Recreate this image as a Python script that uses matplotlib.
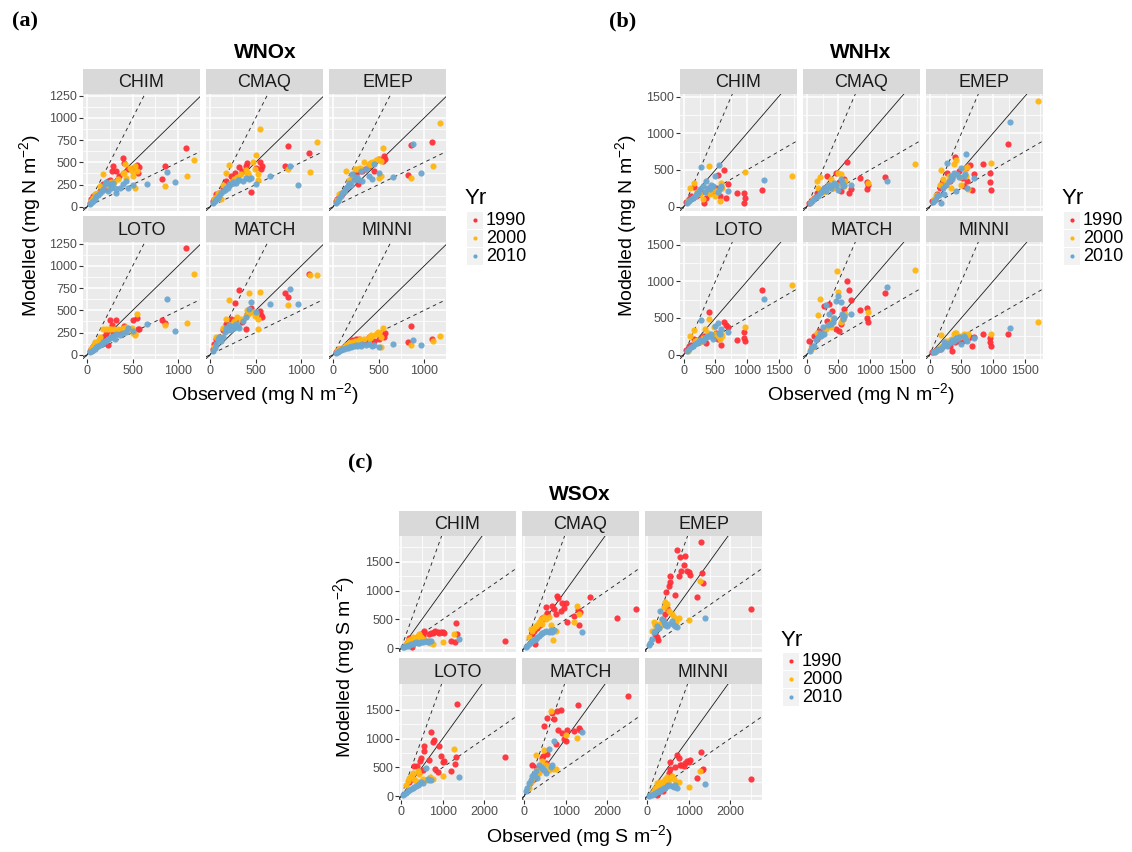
import numpy as np
import matplotlib
matplotlib.use("Agg")
import matplotlib.pyplot as plt
from matplotlib.patches import Rectangle

NA = np.nan
MODELS = ["CHIM", "CMAQ", "EMEP", "LOTO", "MATCH", "MINNI"]
YEARS = ["1990", "2000", "2010"]
YEAR_COLOURS = {"1990": "#FF3038", "2000": "#FFB710", "2010": "#6CA7D0"}

# ---------------- WNOx (mg N m-2) ----------------
NOX_OBS_1990 = [29, 47, 70, 102, 139, 175, 210, 230, 248, 277, 285, 321, 350, 394, 405, 449, 504, 547, 558, 569, 821, 858, 1080]
NOX_CHIM_1990 = [45, 83, 120, 139, 176, 251, 200, 289, 297, 402, 458, 402, 345, 544, 496, 420, 432, 469, 383, 447, 312, 462, 664]
NOX_CMAQ_1990 = [64, 90, 139, 160, 214, 289, 250, 345, 300, 383, 319, 447, 402, 460, 496, 169, 439, 507, 420, 458, 458, 683, 608]
NOX_EMEP_1990 = [60, 83, 110, 139, 214, 251, 327, 327, 383, 251, 400, 402, 420, 458, 480, 402, 533, 514, 571, 540, 357, 691, 728]
NOX_LOTO_1990 = [40, 70, 95, 105, 181, 200, 230, 113, 388, 339, 250, 395, 270, 300, 320, 294, 391, 414, 294, 294, 388, 361, 1204]
NOX_MATCH_1990 = [64, 120, 177, 196, 275, 350, 330, 406, 380, 587, 400, 723, 365, 290, 459, 531, 470, 497, 444, 430, 696, 644, 903]
NOX_MINNI_1990 = [30, 45, 64, 70, 101, 120, 162, 150, 177, 160, 177, 140, 139, 196, 190, 158, 177, 218, 200, 240, 139, 320, 181]

NOX_OBS_2000 = [40, 66, 84, 120, 146, 175, 212, 240, 266, 300, 339, 394, 405, 412, 431, 474, 496, 504, 522, 529, 547, 858, 1099, 1177]
NOX_CHIM_2000 = [70, 101, 139, 160, 233, 364, 250, 230, 280, 280, 308, 380, 383, 477, 327, 439, 402, 350, 458, 206, 400, 229, 349, 522]
NOX_CMAQ_2000 = [83, 110, 158, 83, 250, 383, 469, 280, 308, 330, 364, 413, 380, 383, 350, 503, 420, 582, 364, 300, 871, 420, 390, 728]
NOX_EMEP_2000 = [80, 139, 150, 176, 402, 300, 360, 420, 420, 440, 507, 470, 495, 480, 507, 530, 540, 327, 345, 520, 664, 327, 454, 938]
NOX_LOTO_2000 = [60, 100, 143, 150, 200, 294, 294, 294, 294, 294, 290, 300, 260, 280, 312, 290, 300, 250, 218, 230, 455, 339, 357, 907]
NOX_MATCH_2000 = [90, 196, 180, 200, 300, 406, 621, 350, 380, 420, 400, 440, 500, 460, 696, 480, 440, 459, 290, 400, 711, 561, 896, 896]
NOX_MINNI_2000 = [40, 60, 70, 90, 110, 130, 140, 160, 150, 177, 177, 200, 190, 220, 210, 230, 252, 240, 200, 87, 297, 105, 158, 207]

NOX_OBS_2010 = [29, 50, 66, 85, 102, 120, 139, 160, 175, 193, 212, 230, 248, 266, 285, 303, 321, 358, 394, 423, 449, 504, 657, 872, 966]
NOX_CHIM_2010 = [34, 50, 64, 90, 120, 130, 158, 180, 195, 251, 282, 176, 251, 214, 270, 214, 158, 214, 259, 289, 214, 244, 259, 390, 278]
NOX_CMAQ_2010 = [45, 60, 83, 100, 120, 150, 176, 190, 214, 214, 251, 251, 280, 270, 270, 300, 300, 289, 320, 308, 327, 259, 345, 458, 244]
NOX_EMEP_2010 = [45, 70, 101, 120, 158, 180, 214, 230, 270, 250, 364, 300, 327, 330, 300, 402, 289, 420, 350, 308, 477, 383, 338, 702, 379]
NOX_LOTO_2010 = [30, 45, 55, 70, 85, 100, 110, 120, 140, 150, 160, 180, 190, 200, 215, 180, 230, 220, 250, 260, 300, 270, 350, 625, 267]
NOX_MATCH_2010 = [45, 80, 120, 180, 200, 160, 200, 260, 300, 280, 330, 280, 320, 300, 350, 320, 300, 380, 420, 520, 598, 478, 572, 741, 568]
NOX_MINNI_2010 = [20, 30, 40, 55, 60, 70, 80, 75, 90, 85, 100, 95, 110, 100, 115, 100, 120, 110, 125, 100, 110, 90, 120, 162, 105]

# ---------------- WNHx (mg N m-2) ----------------
NHX_OBS_1990 = [40, 80, 117, 160, 200, 239, 277, 314, 356, 404, 463, 505, 548, 569, 596, 638, 665, 702, 835, 950, 957, 965, 1230]
NHX_CHIM_1990 = [60, 100, 140, 273, 150, 214, 200, 50, 123, 180, 214, 259, 432, 145, 250, 505, 123, 305, 191, 191, 50, 114, 223]
NHX_CMAQ_1990 = [50, 90, 120, 180, 220, 214, 260, 418, 300, 250, 464, 330, 214, 350, 380, 605, 191, 236, 386, 341, 245, 300, 405]
NHX_EMEP_1990 = [70, 110, 168, 250, 327, 300, 464, 350, 400, 677, 486, 395, 282, 520, 350, 564, 232, 441, 586, 464, 336, 223, 850]
NHX_LOTO_1990 = [60, 114, 130, 214, 200, 180, 230, 250, 159, 577, 260, 300, 214, 280, 136, 450, 405, 373, 205, 314, 227, 191, 882]
NHX_MATCH_1990 = [191, 123, 250, 214, 327, 300, 668, 464, 691, 600, 350, 327, 420, 500, 620, 1000, 886, 750, 614, 632, 500, 441, 836]
NHX_MINNI_1990 = [30, 50, 60, 77, 100, 130, 150, 114, 55, 170, 191, 180, 200, 230, 214, 240, 114, 236, 282, 223, 168, 114, 282]

NHX_OBS_2000 = [60, 106, 154, 170, 213, 250, 303, 330, 383, 399, 410, 479, 495, 543, 569, 596, 612, 975, 1715]
NHX_CHIM_2000 = [80, 259, 327, 150, 200, 168, 100, 250, 200, 559, 168, 220, 150, 214, 77, 327, 260, 468, 418]
NHX_CMAQ_2000 = [60, 100, 350, 250, 405, 200, 214, 300, 373, 280, 250, 300, 464, 441, 300, 280, 350, 323, 586]
NHX_EMEP_2000 = [100, 159, 300, 500, 373, 320, 420, 259, 586, 450, 632, 400, 300, 509, 420, 541, 236, 591, 1440]
NHX_LOTO_2000 = [55, 250, 341, 180, 200, 168, 230, 350, 300, 486, 260, 373, 280, 250, 214, 300, 260, 373, 950]
NHX_MATCH_2000 = [80, 100, 300, 541, 759, 282, 350, 400, 373, 450, 500, 1145, 859, 441, 480, 509, 560, 577, 1154]
NHX_MINNI_2000 = [40, 55, 100, 268, 123, 191, 180, 214, 280, 300, 290, 236, 250, 282, 220, 259, 280, 286, 450]

NHX_OBS_2010 = [50, 80, 120, 144, 170, 213, 223, 260, 277, 303, 330, 356, 383, 410, 436, 463, 489, 543, 559, 569, 596, 702, 1270]
NHX_CHIM_2010 = [55, 70, 100, 123, 150, 180, 191, 240, 541, 282, 200, 350, 250, 236, 300, 282, 418, 200, 564, 259, 280, 214, 368]
NHX_CMAQ_2010 = [45, 77, 110, 130, 145, 191, 200, 230, 250, 214, 280, 300, 259, 290, 327, 300, 223, 373, 330, 282, 300, 290, 350]
NHX_EMEP_2010 = [60, 90, 140, 160, 55, 250, 168, 300, 600, 350, 418, 380, 464, 214, 441, 400, 532, 418, 450, 714, 259, 386, 1159]
NHX_LOTO_2010 = [55, 80, 100, 123, 140, 160, 168, 200, 473, 191, 220, 236, 250, 259, 280, 214, 386, 432, 300, 280, 350, 314, 759]
NHX_MATCH_2010 = [55, 100, 123, 200, 236, 300, 260, 373, 282, 677, 400, 555, 418, 450, 495, 727, 805, 714, 555, 486, 520, 560, 918]
NHX_MINNI_2010 = [30, 32, 60, 70, 77, 120, 168, 140, 123, 160, 168, 200, 191, 220, 214, 240, 145, 259, 230, 200, 191, 220, 359]

# ---------------- WSOx (mg S m-2) ----------------
SOX_OBS_1990 = [200, 240, 264, 320, 384, 440, 464, 480, 520, 544, 560, 680, 720, 760, 800, 824, 880, 920, 960, 1000, 1040, 1200, 1304, 1320, 1344, 1584, 2240, 2504, 2680]
SOX_CHIM_1990 = [173, 133, 17, 173, 200, 219, 230, 250, 219, 280, 294, 248, 270, 260, 280, 306, 288, 270, 280, 288, 265, 133, 115, 433, 250, NA, NA, 127, NA]
SOX_CMAQ_1990 = [250, 300, 75, 350, 400, 519, 500, 550, 710, 600, 620, 727, 680, 594, 912, 871, 652, 785, 700, 779, 462, 565, 669, 404, 635, 894, 525, NA, 681]
SOX_EMEP_1990 = [250, 200, 150, 400, 500, 600, 969, 700, 1085, 1258, 1142, 929, 1708, 1260, 1587, 1344, 1443, 1593, 1333, 1316, 1269, 894, 1835, 1304, 1131, NA, NA, 681, NA]
SOX_LOTO_1990 = [250, 335, 300, 519, 519, 400, 617, 664, 450, 779, 877, 623, 1108, 935, 981, 479, 421, 877, 700, 589, 617, 444, 560, 675, 1593, NA, NA, 687, NA]
SOX_MATCH_1990 = [548, 300, 350, 490, 450, 664, 700, 1223, 577, 1356, 733, 1443, 1339, 912, 1483, 1154, 1489, 1100, 998, 952, 1150, 1137, 1587, 1183, 1150, NA, NA, 1731, NA]
SOX_MINNI_1990 = [100, 20, 60, 120, 87, 200, 250, 300, 400, 594, 479, 500, 710, 664, 550, 537, 520, 580, 606, 600, 635, 317, 762, 450, 479, NA, NA, 306, NA]

SOX_OBS_2000 = [120, 160, 200, 240, 280, 320, 360, 400, 440, 480, 520, 600, 640, 700, 760, 1000, 1210, 1280, 1330]
SOX_CHIM_2000 = [80, 133, 150, 162, 200, 180, 162, 220, 248, 200, 162, 120, 130, 100, 81, 115, NA, 248, NA]
SOX_CMAQ_2000 = [200, 335, 300, 350, 392, 400, 450, 500, 421, 550, 500, 537, 400, 150, 300, NA, 462, 739, 594]
SOX_EMEP_2000 = [300, 462, 400, 350, 420, 392, 500, 710, 808, 767, 652, 600, 550, 450, 519, 496, NA, 1171, NA]
SOX_LOTO_2000 = [200, 260, 317, 350, 404, 300, 260, 433, 380, 260, 300, 280, 306, 330, 300, 358, NA, 825, NA]
SOX_MATCH_2000 = [150, 250, 300, 350, 721, 450, 404, 500, 606, 808, 550, 462, 1483, 480, 473, 1067, NA, 1010, NA]
SOX_MINNI_2000 = [60, 87, 150, 231, 200, 250, 220, 260, 300, 340, 280, 346, 300, 250, 248, 156, NA, 433, NA]

SOX_OBS_2010 = [40, 80, 120, 160, 200, 240, 280, 320, 360, 400, 440, 480, 520, 600, 640, 680, 720, 1400]
SOX_CHIM_2010 = [20, 17, 40, 46, 60, 70, 75, 90, 104, 87, 100, 115, 110, 133, 104, 133, 120, 162]
SOX_CMAQ_2010 = [30, 46, 80, 104, 130, 150, 162, 200, 219, 250, 260, 277, 300, 290, 323, 277, 323, 277]
SOX_EMEP_2010 = [60, 100, 162, 277, 300, 392, 350, 652, 508, 450, 400, 380, 420, 479, 400, 380, 364, 531]
SOX_LOTO_2010 = [20, 40, 60, 87, 110, 130, 144, 160, 173, 200, 220, 240, 231, 490, 300, 290, 277, 335]
SOX_MATCH_2010 = [87, 150, 231, 280, 346, 380, 433, 317, 548, 500, 490, 450, 400, 825, 500, 550, 964, 1114]
SOX_MINNI_2010 = [10, 20, 29, 40, 60, 70, 87, 100, 120, 144, 150, 170, 202, 180, 160, 202, 144, 213]


def collect(prefix):
    g = globals()
    obs = {y: g[f"{prefix}_OBS_{y}"] for y in YEARS}
    mod = {m: {y: g[f"{prefix}_{m}_{y}"] for y in YEARS} for m in MODELS}
    return obs, mod


plt.rcParams["font.family"] = ["Liberation Sans", "DejaVu Sans"]
plt.rcParams["mathtext.fontset"] = "custom"
plt.rcParams["mathtext.rm"] = "Liberation Sans"
plt.rcParams["mathtext.it"] = "Liberation Sans:italic"
plt.rcParams["mathtext.bf"] = "Liberation Sans:bold"

W, H = 1132, 852
fig = plt.figure(figsize=(W / 100, H / 100), dpi=100)
fig.patch.set_facecolor("white")


def px_axes(x0, y0, x1, y1):
    return fig.add_axes([x0 / W, 1 - y1 / H, (x1 - x0) / W, (y1 - y0) / H])


def draw_block(prefix, spec):
    obs, mod = collect(prefix)
    xlim, ylim = spec["xlim"], spec["ylim"]
    for i, model in enumerate(MODELS):
        r, c = divmod(i, 3)
        x0, x1 = spec["cols"][c]
        s_top, p_top, p_bot = spec["rows"][r]

        strip = px_axes(x0, s_top, x1, p_top)
        strip.set_facecolor("#D9D9D9")
        strip.set_xticks([]); strip.set_yticks([])
        for sp in strip.spines.values():
            sp.set_visible(False)
        strip.text(0.5, 0.46, model, ha="center", va="center", fontsize=13,
                   color="#1A1A1A", transform=strip.transAxes)

        ax = px_axes(x0, p_top, x1, p_bot)
        ax.set_facecolor("#EBEBEB")
        for sp in ax.spines.values():
            sp.set_visible(False)
        ax.set_xlim(*xlim); ax.set_ylim(*ylim)
        for v in spec["xminor"]:
            ax.axvline(v, color="white", lw=0.55, zorder=0.5)
        for v in spec["yminor"]:
            ax.axhline(v, color="white", lw=0.55, zorder=0.5)
        for v in spec["xticks"]:
            ax.axvline(v, color="white", lw=1.1, zorder=0.6)
        for v in spec["yticks"]:
            ax.axhline(v, color="white", lw=1.1, zorder=0.6)

        ax.set_xticks(spec["xticks"]); ax.set_yticks(spec["yticks"])
        ax.tick_params(length=2.8, width=0.8, color="#333333", labelsize=9,
                       labelcolor="#4D4D4D", pad=1.5)
        if c != 0:
            ax.tick_params(axis="y", left=False, labelleft=False)
        if r != 1:
            ax.tick_params(axis="x", bottom=False, labelbottom=False)

        # 1:1 reference and factor-of-two bounds
        xs = np.array([xlim[0], xlim[1]])
        ax.plot(xs, xs, color="#1A1A1A", lw=0.6, zorder=2)
        ax.plot(xs, 2 * xs, color="#262626", lw=0.65, ls=(0, (4, 4)), zorder=2)
        ax.plot(xs, 0.5 * xs, color="#262626", lw=0.65, ls=(0, (4, 4)), zorder=2)

        for y in YEARS:
            ax.scatter(obs[y], mod[model][y], s=20, color=YEAR_COLOURS[y],
                       linewidths=0, alpha=0.95, zorder=3)


COLS_A = [(83, 200), (206, 323), (329, 446)]
COLS_B = [(680, 797), (803, 920), (926, 1043)]
COLS_C = [(399, 516), (522, 639), (645, 762)]
ROWS_AB = [(69, 94, 211), (216, 242, 359)]
ROWS_C = [(511, 536, 652), (658, 684, 800)]

draw_block("NOX", dict(cols=COLS_A, rows=ROWS_AB, xlim=(-45, 1238), ylim=(-48, 1268),
                       xticks=[0, 500, 1000], xminor=[250, 750],
                       yticks=[0, 250, 500, 750, 1000, 1250],
                       yminor=[125, 375, 625, 875, 1125]))
draw_block("NHX", dict(cols=COLS_B, rows=ROWS_AB, xlim=(-60, 1790), ylim=(-60, 1535),
                       xticks=[0, 500, 1000, 1500], xminor=[250, 750, 1250, 1750],
                       yticks=[0, 500, 1000, 1500], yminor=[250, 750, 1250]))
draw_block("SOX", dict(cols=COLS_C, rows=ROWS_C, xlim=(-50, 2760), ylim=(-64, 1945),
                       xticks=[0, 1000, 2000], xminor=[500, 1500, 2500],
                       yticks=[0, 500, 1000, 1500], yminor=[250, 750, 1250, 1750]))

# Overlay in pixel coordinates for titles, axis labels and legends
ov = fig.add_axes([0, 0, 1, 1])
ov.set_xlim(0, W); ov.set_ylim(H, 0)
ov.axis("off")
ov.patch.set_alpha(0)

letter_kw = dict(fontsize=16, fontweight="bold", family="Liberation Serif",
                 ha="center", va="center")
ov.text(25, 21, "(a)", **letter_kw)
ov.text(623, 21, "(b)", **letter_kw)
ov.text(360, 463, "(c)", **letter_kw)

title_kw = dict(fontsize=15, fontweight="bold", ha="center", va="center")
ov.text(265, 53, "WNOx", **title_kw)
ov.text(861, 53, "WNHx", **title_kw)
ov.text(580, 495, "WSOx", **title_kw)

lab_kw = dict(fontsize=14, ha="center", va="center")
ov.text(265, 394, r"Observed (mg N m$^{-2}$)", **lab_kw)
ov.text(861, 394, r"Observed (mg N m$^{-2}$)", **lab_kw)
ov.text(580, 836, r"Observed (mg S m$^{-2}$)", **lab_kw)
ov.text(30, 226, r"Modelled (mg N m$^{-2}$)", rotation=90, **lab_kw)
ov.text(626, 226, r"Modelled (mg N m$^{-2}$)", rotation=90, **lab_kw)
ov.text(344, 667, r"Modelled (mg S m$^{-2}$)", rotation=90, **lab_kw)


def legend(x_key, y_title, y_key0):
    ov.text(x_key - 1, y_title, "Yr", fontsize=16, ha="left", va="center")
    kh = 18
    for k, y in enumerate(YEARS):
        top = y_key0 + k * kh
        ov.add_patch(Rectangle((x_key, top), 17, kh, facecolor="#F2F2F2",
                               edgecolor="white", lw=0.8))
        ov.scatter([x_key + 8.5], [top + kh / 2], s=9, color=YEAR_COLOURS[y],
                   linewidths=0)
        ov.text(x_key + 20, top + kh / 2 + 0.5, y, fontsize=13, ha="left", va="center")


legend(466, 198, 211)
legend(1063, 198, 211)
legend(782, 640, 652)

fig.savefig("out.png", dpi=100)
